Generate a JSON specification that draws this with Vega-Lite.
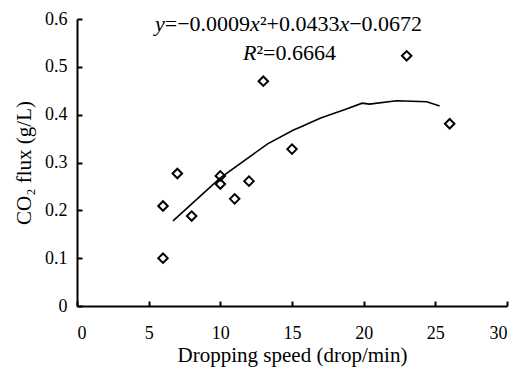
{
  "$schema": "https://vega.github.io/schema/vega-lite/v6.json",
  "width": 430,
  "height": 287,
  "autosize": {"type": "none"},
  "padding": {"left": 77, "top": 19, "right": 14, "bottom": 65},
  "background": "white",
  "config": {
    "view": {"stroke": null},
    "font": "Liberation Serif",
    "text": {"font": "Liberation Serif", "fontSize": 22, "baseline": "middle", "color": "black", "align": "left"},
    "axis": {
      "grid": false,
      "domainColor": "black",
      "domainWidth": 2,
      "tickColor": "black",
      "tickWidth": 2,
      "tickSize": -5,
      "labelFont": "Liberation Serif",
      "labelFontSize": 18,
      "labelColor": "black",
      "titleFont": "Liberation Serif",
      "titleFontSize": 21,
      "titleFontWeight": "normal",
      "titleColor": "black"
    }
  },
  "datasets": {
    "points": [
      {"speed": 6, "flux": 0.1},
      {"speed": 6, "flux": 0.209},
      {"speed": 7, "flux": 0.277},
      {"speed": 8, "flux": 0.188},
      {"speed": 10, "flux": 0.255},
      {"speed": 10, "flux": 0.272},
      {"speed": 11, "flux": 0.224},
      {"speed": 12, "flux": 0.261},
      {"speed": 13, "flux": 0.47},
      {"speed": 15, "flux": 0.328},
      {"speed": 23, "flux": 0.523},
      {"speed": 26, "flux": 0.381}
    ],
    "curve": [
      {"speed": 6.7, "flux": 0.178},
      {"speed": 10, "flux": 0.268},
      {"speed": 13.3, "flux": 0.339},
      {"speed": 15.1, "flux": 0.368},
      {"speed": 15.6, "flux": 0.374},
      {"speed": 17, "flux": 0.393},
      {"speed": 18.6, "flux": 0.41},
      {"speed": 19.9, "flux": 0.424},
      {"speed": 20.4, "flux": 0.422},
      {"speed": 22.3, "flux": 0.429},
      {"speed": 24.4, "flux": 0.427},
      {"speed": 25.3, "flux": 0.418}
    ]
  },
  "layer": [
    {
      "data": {"name": "curve"},
      "mark": {"type": "line", "color": "black", "strokeWidth": 1.6},
      "encoding": {
        "x": {
          "field": "speed",
          "type": "quantitative",
          "scale": {"domain": [0, 30], "nice": false},
          "axis": {
            "values": [0, 5, 10, 15, 20, 25, 30],
            "labelPadding": 23,
            "titlePadding": 2,
            "title": "Dropping speed (drop/min)"
          }
        },
        "y": {
          "field": "flux",
          "type": "quantitative",
          "scale": {"domain": [0, 0.6], "nice": false},
          "axis": {
            "values": [0, 0.1, 0.2, 0.3, 0.4, 0.5, 0.6],
            "labelExpr": "datum.value == 0 ? '0' : format(datum.value, '.1f')",
            "labelPadding": 15,
            "titlePadding": 10,
            "title": "CO₂ flux (g/L)"
          }
        }
      }
    },
    {
      "data": {"name": "points"},
      "mark": {"type": "point", "shape": "diamond", "filled": false, "color": "black", "strokeWidth": 2, "size": 90, "opacity": 1},
      "encoding": {
        "x": {"field": "speed", "type": "quantitative"},
        "y": {"field": "flux", "type": "quantitative"}
      }
    },
    {
      "data": {"values": [{"t": "y"}]},
      "mark": {"type": "text", "fontStyle": "italic", "align": "right"},
      "encoding": {"text": {"field": "t"}, "x": {"datum": 6.126}, "y": {"datum": 0.5896}}
    },
    {
      "data": {"values": [{"t": "=−0.0009"}]},
      "mark": {"type": "text"},
      "encoding": {"text": {"field": "t"}, "x": {"datum": 6.126}, "y": {"datum": 0.5896}}
    },
    {
      "data": {"values": [{"t": "x"}]},
      "mark": {"type": "text", "fontStyle": "italic"},
      "encoding": {"text": {"field": "t"}, "x": {"datum": 12.077}, "y": {"datum": 0.5896}}
    },
    {
      "data": {"values": [{"t": "²+0.0433"}]},
      "mark": {"type": "text"},
      "encoding": {"text": {"field": "t"}, "x": {"datum": 12.761}, "y": {"datum": 0.5896}}
    },
    {
      "data": {"values": [{"t": "x"}]},
      "mark": {"type": "text", "fontStyle": "italic"},
      "encoding": {"text": {"field": "t"}, "x": {"datum": 18.307}, "y": {"datum": 0.5896}}
    },
    {
      "data": {"values": [{"t": "−0.0672"}]},
      "mark": {"type": "text"},
      "encoding": {"text": {"field": "t"}, "x": {"datum": 18.991}, "y": {"datum": 0.5896}}
    },
    {
      "data": {"values": [{"t": "R"}]},
      "mark": {"type": "text", "fontStyle": "italic", "align": "right"},
      "encoding": {"text": {"field": "t"}, "x": {"datum": 12.52}, "y": {"datum": 0.529}}
    },
    {
      "data": {"values": [{"t": "²=0.6664"}]},
      "mark": {"type": "text"},
      "encoding": {"text": {"field": "t"}, "x": {"datum": 12.52}, "y": {"datum": 0.529}}
    }
  ]
}
